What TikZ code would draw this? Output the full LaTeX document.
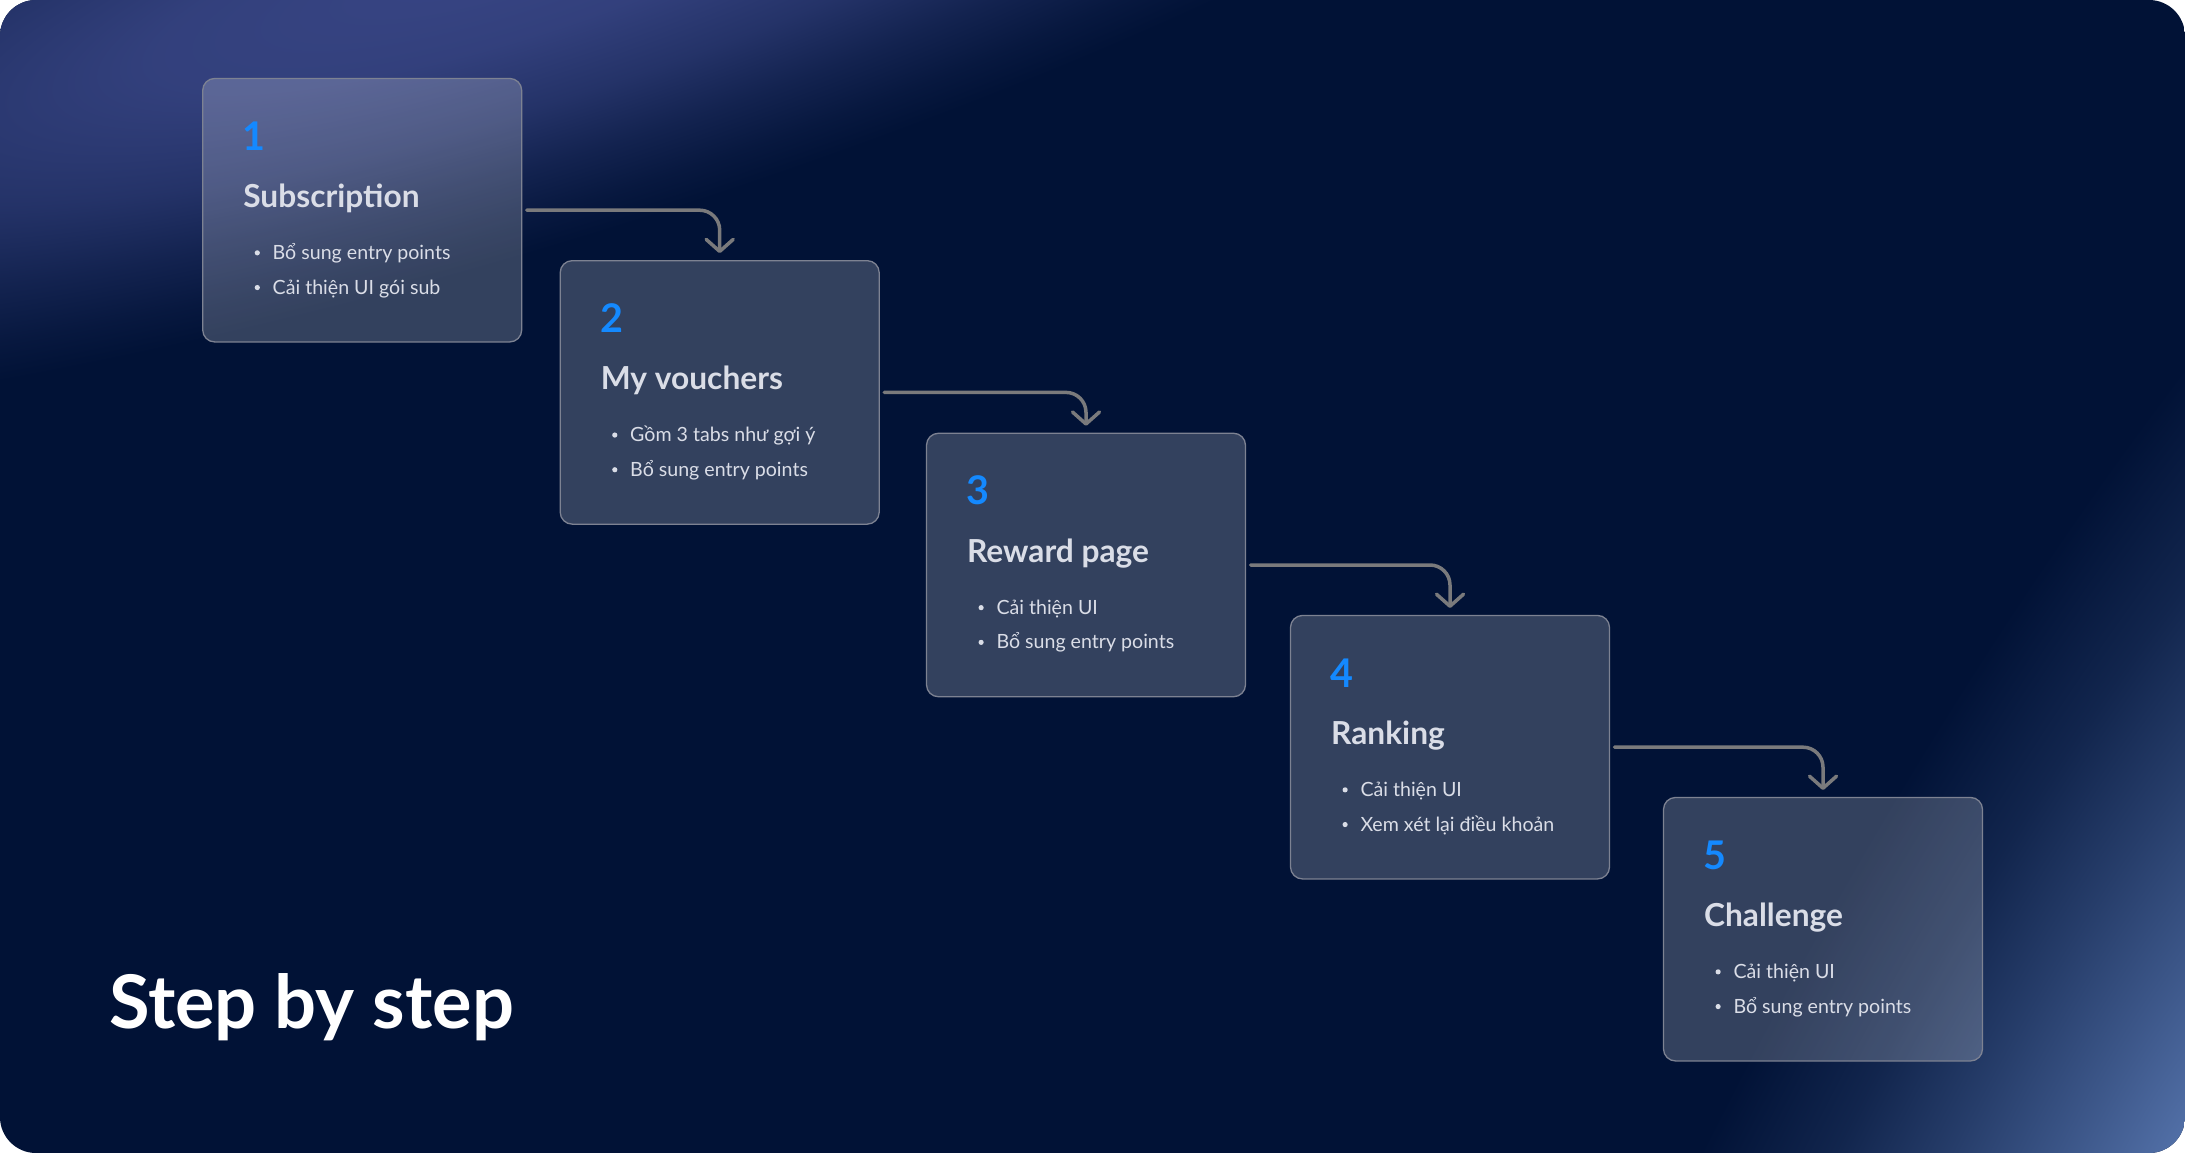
\documentclass[tikz,border=0pt]{standalone}
\usepackage{fontspec}
\setmainfont{Lato}
\usetikzlibrary{arrows.meta}
\definecolor{night}{RGB}{1,18,54}
\definecolor{glowtl}{RGB}{56,69,132}
\definecolor{glowbr}{RGB}{84,114,170}
\definecolor{stepblue}{RGB}{20,137,255}
\definecolor{softtext}{RGB}{218,221,231}
\definecolor{edgegray}{RGB}{125,130,146}
\definecolor{flowgray}{RGB}{122,122,124}
\pgfdeclareradialshading{tlglow}{\pgfpoint{0bp}{0bp}}{color(0bp)=(glowtl); color(7bp)=(glowtl!90!night); color(13bp)=(glowtl!64!night); color(18bp)=(glowtl!33!night); color(22bp)=(glowtl!12!night); color(25bp)=(night); color(50bp)=(night)}
\pgfdeclareradialshading{brglow}{\pgfpoint{0bp}{0bp}}{color(0bp)=(glowbr); color(6bp)=(glowbr!72!night); color(12bp)=(glowbr!45!night); color(18bp)=(glowbr!20!night); color(25bp)=(night); color(50bp)=(night)}
\begin{document}
\begin{tikzpicture}[
  x=1pt, y=-1pt,
  every node/.style={inner sep=0pt, outer sep=0pt},
  card/.style={draw=edgegray, line width=1.3pt, rounded corners=12pt, fill=white, fill opacity=0.2, draw opacity=1, minimum width=319pt, minimum height=263.5pt},
  num/.style={anchor=base west, font=\fontsize{39.5}{40}\selectfont\bfseries, text=stepblue},
  head/.style={anchor=base west, font=\fontsize{31.7}{32}\selectfont\bfseries, text=softtext},
  item/.style={anchor=base west, font=\fontsize{19.6}{20}\selectfont, text=softtext},
  flow/.style={draw=flowgray, line width=3.5pt, line cap=round, rounded corners=20pt, -{Straight Barb[length=12pt, width=27pt, round]}}
]
  \useasboundingbox (0,0) rectangle (2185,1153);
  % background with the two glows
  \begin{scope}
    \clip[rounded corners=36pt] (0,0) rectangle (2185,1153);
    \fill[night] (0,0) rectangle (2185,1153);
    \begin{scope}[transform canvas={rotate around={17:(500,-40)}}]
      \shade[shading=tlglow] (500,-40) ellipse (1300 and 290);
    \end{scope}
    \begin{scope}[transform canvas={rotate around={61:(2185,1153)}}]
      \shade[shading=brglow] (2185,1153) ellipse (1500 and 430);
    \end{scope}
  \end{scope}

  \node[card] (subs) at (362.2,210.2) {};
  \node[card] (vouch) at (719.7,392.4) {};
  \node[card] (reward) at (1086,565) {};
  \node[card] (rank) at (1450,747.2) {};
  \node[card] (chall) at (1823,929.2) {};

  \foreach \c/\n/\t/\a/\b in {subs/1/Subscription/Bổ sung entry points/Cải thiện UI gói sub,
      vouch/2/My vouchers/Gồm 3 tabs như gợi ý/Bổ sung entry points,
      reward/3/Reward page/Cải thiện UI/Bổ sung entry points,
      rank/4/Ranking/Cải thiện UI/Xem xét lại điều khoản,
      chall/5/Challenge/Cải thiện UI/Bổ sung entry points}{
    \node[num] (\c-num) at ([shift={(40,71.7)}]\c.north west) {\n};
    \node[head] (\c-head) at ([shift={(40.6,129)}]\c.north west) {\t};
    \node[item] (\c-a) at ([shift={(70,181)}]\c.north west) {\a};
    \node[item] (\c-b) at ([shift={(70,215.7)}]\c.north west) {\b};
    \fill[softtext] ([shift={(54.6,174.4)}]\c.north west) circle (2.6pt);
    \fill[softtext] ([shift={(54.6,209.1)}]\c.north west) circle (2.6pt);
  }

  \draw[flow] ([xshift=5pt]subs.east) -| ([yshift=7.5pt]vouch.north);
  \draw[flow] ([xshift=5pt]vouch.east) -| ([yshift=7.5pt]reward.north);
  \draw[flow] ([xshift=5pt]reward.east) -| ([yshift=7.5pt]rank.north);
  \draw[flow] ([xshift=5pt]rank.east) -| ([yshift=7.5pt]chall.north);

  \node[anchor=base west, font=\fontsize{74}{76}\selectfont\bfseries, text=white] (title) at (109,1028.3) {Step by step};
\end{tikzpicture}
\end{document}
